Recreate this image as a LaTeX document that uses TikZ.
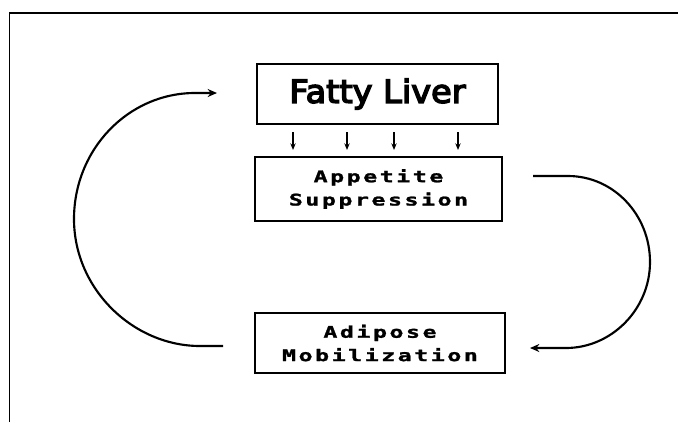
\documentclass[tikz,border=0pt]{standalone}
\usepackage{fontspec}
\usetikzlibrary{arrows.meta}
\newfontfamily\titlefont[FakeStretch=1.05,FakeBold=4.5]{DejaVu Sans}
\newfontfamily\dotfont[FakeStretch=1.45,LetterSpace=16,FakeBold=1.5]{DejaVu Sans Mono Bold}
\begin{document}
\begin{tikzpicture}[x=0.75pt,y=-0.75pt,
  box/.style={draw,line width=1.5pt,inner sep=0pt,align=center},
  smallarrow/.style={-{Stealth[length=5pt,width=4pt]},line width=1.1pt,shorten <=5.25pt,shorten >=4.5pt},
  loopend/.style={line width=1.6pt,-{Stealth[length=7pt,width=6pt]}},
  dottext/.style={font=\dotfont\fontsize{12}{17.5}\selectfont}]
\fill[white] (0,0) rectangle (678,422);
\useasboundingbox (0,0) rectangle (678,422);
% frame
\draw[line width=1.1pt] (9.5,422) -- (9.5,13) -- (678,13);
% boxes
\node[box,minimum width=180.75pt,minimum height=45pt,font=\titlefont\fontsize{24}{28}\selectfont] (fatty) at (377.5,94) {Fatty Liver};
\node[box,minimum width=185.25pt,minimum height=48pt,dottext] (app) at (378.5,189) {Appetite\\Suppression};
\node[box,minimum width=187.5pt,minimum height=45pt,dottext] (adi) at (380,343) {Adipose\\Mobilization};
% small arrows
\foreach \xx/\nm in {293/a1,347/a2,394/a3,458/a4}{
  \coordinate (\nm) at (\xx,0);
  \draw[smallarrow] (fatty.south -| \nm) -- (app.north -| \nm);
}
% right loop
\coordinate (r0) at (533,176);
\coordinate (r1) at (568,176);
\coordinate (r2) at (650,262);
\coordinate (r3) at (566,348);
\coordinate (r4) at (530,348);
\draw[loopend] (r0) -- (r1) .. controls (613.3,176) and (650,214.5) .. (r2)
  .. controls (650,309.5) and (611.3,348) .. (r3) -- (r4);
% left loop
\coordinate (l0) at (223,346);
\coordinate (l1) at (200,346);
\coordinate (l2) at (74,219);
\coordinate (l3) at (195,93);
\coordinate (l4) at (217,93);
\draw[loopend] (l0) -- (l1) .. controls (133.2,346) and (74,289.1) .. (l2)
  .. controls (74,149.4) and (128.2,93) .. (l3) -- (l4);
\end{tikzpicture}
\end{document}
